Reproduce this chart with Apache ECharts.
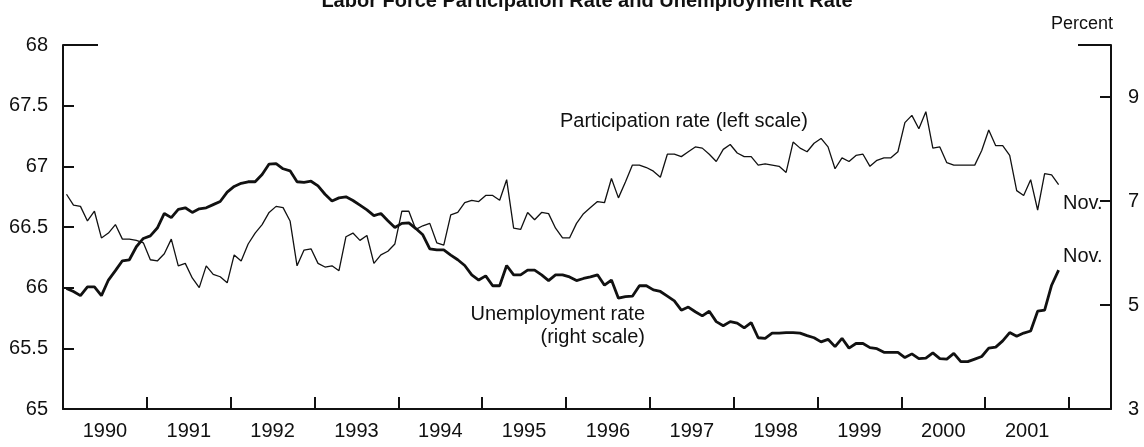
<!DOCTYPE html>
<html>
<head>
<meta charset="utf-8">
<script src="https://cdn.jsdelivr.net/npm/echarts@6/dist/echarts.min.js"></script>
<style>
  html, body { margin: 0; padding: 0; background: #fff; }
  #chart { width: 1144px; height: 447px; }
</style>
</head>
<body>
<div id="chart"></div>
<script>
// monthly, Jan 1990 .. Nov 2001
const startYear = 1990
// labor force participation rate, percent (left scale)
const participation = [
  66.77, 66.68, 66.67, 66.55, 66.63, 66.41, 66.45, 66.52, 66.40, 66.40, 66.39, 66.37,
  66.23, 66.22, 66.28, 66.40, 66.18, 66.20, 66.08, 66.00, 66.18, 66.11, 66.09, 66.04,
  66.27, 66.22, 66.36, 66.45, 66.52, 66.62, 66.67, 66.66, 66.55, 66.18, 66.31, 66.32,
  66.20, 66.17, 66.18, 66.14, 66.42, 66.45, 66.39, 66.43, 66.20, 66.27, 66.30, 66.36,
  66.63, 66.63, 66.48, 66.51, 66.53, 66.37, 66.35, 66.60, 66.62, 66.70, 66.72, 66.71,
  66.76, 66.76, 66.72, 66.89, 66.49, 66.48, 66.62, 66.56, 66.62, 66.61, 66.49, 66.41,
  66.41, 66.53, 66.61, 66.66, 66.71, 66.70, 66.90, 66.74, 66.87, 67.01, 67.01, 66.99,
  66.96, 66.91, 67.10, 67.10, 67.08, 67.12, 67.16, 67.15, 67.10, 67.04, 67.14, 67.18,
  67.11, 67.08, 67.08, 67.01, 67.02, 67.01, 67.00, 66.95, 67.20, 67.15, 67.12, 67.19,
  67.23, 67.16, 66.98, 67.07, 67.04, 67.09, 67.10, 67.00, 67.05, 67.07, 67.07, 67.12,
  67.36, 67.42, 67.31, 67.45, 67.15, 67.16, 67.03, 67.01, 67.01, 67.01, 67.01, 67.13,
  67.30, 67.17, 67.17, 67.09, 66.80, 66.76, 66.89, 66.64, 66.94, 66.93, 66.85
]
// unemployment rate, percent (right scale)
const unemployment = [
  5.32, 5.26, 5.18, 5.35, 5.35, 5.18, 5.48, 5.66, 5.85, 5.87, 6.12, 6.28,
  6.33, 6.48, 6.76, 6.68, 6.84, 6.87, 6.78, 6.85, 6.87, 6.93, 6.99, 7.17,
  7.28, 7.34, 7.37, 7.37, 7.51, 7.71, 7.72, 7.62, 7.58, 7.37, 7.36, 7.38,
  7.29, 7.13, 7.00, 7.06, 7.08, 7.01, 6.92, 6.83, 6.72, 6.76, 6.62, 6.49,
  6.57, 6.58, 6.47, 6.35, 6.08, 6.06, 6.06, 5.96, 5.87, 5.76, 5.58, 5.48,
  5.56, 5.37, 5.37, 5.76, 5.58, 5.58, 5.67, 5.67, 5.58, 5.47, 5.58, 5.58,
  5.54, 5.47, 5.51, 5.54, 5.58, 5.38, 5.48, 5.13, 5.16, 5.17, 5.37, 5.37,
  5.29, 5.26, 5.17, 5.08, 4.90, 4.96, 4.87, 4.79, 4.88, 4.68, 4.60, 4.68,
  4.65, 4.56, 4.66, 4.37, 4.36, 4.46, 4.46, 4.47, 4.47, 4.46, 4.41, 4.37,
  4.29, 4.34, 4.20, 4.36, 4.17, 4.26, 4.26, 4.18, 4.16, 4.09, 4.09, 4.09,
  3.99, 4.06, 3.97, 3.98, 4.08, 3.97, 3.96, 4.07, 3.91, 3.91, 3.96, 4.01,
  4.17, 4.19, 4.31, 4.47, 4.40, 4.46, 4.50, 4.88, 4.90, 5.38, 5.67
]
const yearLabels = [1990, 1991, 1992, 1993, 1994, 1995, 1996, 1997, 1998, 1999, 2000, 2001]
const yearTicks = [1991, 1992, 1993, 1994, 1995, 1996, 1997, 1998, 1999, 2000, 2001, 2002]
const rightTicks = [3, 5, 7, 9]

const FONT = '"Liberation Sans", Arial, Helvetica, sans-serif'
const INK = '#111'

// month index -> decimal year, plotted mid-month
const toPairs = arr => arr.map((v, i) => [startYear + (i + 0.5) / 12, v])

let myChart = echarts.init(document.getElementById('chart'), null, { renderer: 'canvas' })
let option = {
  animation: false,
  backgroundColor: '#fff',
  textStyle: { fontFamily: FONT },
  grid: { left: 63, right: 33, top: 45, bottom: 38 },
  xAxis: {
    type: 'value',
    min: 1990,
    max: 2002.5,
    splitLine: { show: false },
    axisLine: { lineStyle: { color: INK, width: 2 } },
    axisTick: { inside: true, length: 12, customValues: yearTicks, lineStyle: { color: INK, width: 2 } },
    axisLabel: {
      customValues: yearLabels.map(y => y + 0.5),
      formatter: v => String(Math.floor(v)),
      fontSize: 20, color: INK, margin: 12
    }
  },
  yAxis: [
    {
      type: 'value', position: 'left', min: 65, max: 68, interval: 0.5,
      splitLine: { show: false },
      axisLine: { show: true, lineStyle: { color: INK, width: 2 } },
      axisTick: { show: true, inside: true, length: 11, lineStyle: { color: INK, width: 2 } },
      axisLabel: { fontSize: 20, color: INK, margin: 15 }
    },
    {
      type: 'value', position: 'right', min: 3, max: 10,
      splitLine: { show: false },
      axisLine: { show: true, lineStyle: { color: INK, width: 2 } },
      axisTick: { show: true, inside: true, length: 11, customValues: rightTicks, lineStyle: { color: INK, width: 2 } },
      axisLabel: { customValues: rightTicks, fontSize: 20, color: INK, margin: 17 }
    },
    // short caps at the top of both scales
    {
      type: 'value', position: 'left', offset: 0, min: 65, max: 68,
      splitLine: { show: false }, axisLine: { show: false }, axisLabel: { show: false },
      axisTick: { show: true, inside: true, length: 35, customValues: [68], lineStyle: { color: INK, width: 2 } }
    },
    {
      type: 'value', position: 'right', offset: 0, min: 3, max: 10,
      splitLine: { show: false }, axisLine: { show: false }, axisLabel: { show: false },
      axisTick: { show: true, inside: true, length: 33, customValues: [10], lineStyle: { color: INK, width: 2 } }
    }
  ],
  series: [
    {
      name: 'Participation rate',
      type: 'line',
      yAxisIndex: 0,
      data: toPairs(participation),
      showSymbol: false,
      lineStyle: { color: INK, width: 1.3 }
    },
    {
      name: 'Unemployment rate',
      type: 'line',
      yAxisIndex: 1,
      data: toPairs(unemployment),
      showSymbol: false,
      lineStyle: { color: INK, width: 2.8 }
    }
  ],
  graphic: [
    { type: 'text', x: 587, y: 1, style: { text: 'Labor Force Participation Rate and Unemployment Rate', font: 'bold 20px ' + FONT, fill: INK, textAlign: 'center', textVerticalAlign: 'middle' } },
    { type: 'text', x: 1113, y: 24, style: { text: 'Percent', font: '18px ' + FONT, fill: INK, textAlign: 'right', textVerticalAlign: 'middle' } },
    { type: 'text', x: 560, y: 121, style: { text: 'Participation rate (left scale)', font: '20px ' + FONT, fill: INK, textAlign: 'left', textVerticalAlign: 'middle' } },
    { type: 'text', x: 645, y: 314, style: { text: 'Unemployment rate', font: '20px ' + FONT, fill: INK, textAlign: 'right', textVerticalAlign: 'middle' } },
    { type: 'text', x: 645, y: 337, style: { text: '(right scale)', font: '20px ' + FONT, fill: INK, textAlign: 'right', textVerticalAlign: 'middle' } },
    { type: 'text', x: 1063, y: 203, style: { text: 'Nov.', font: '20px ' + FONT, fill: INK, textAlign: 'left', textVerticalAlign: 'middle' } },
    { type: 'text', x: 1063, y: 256, style: { text: 'Nov.', font: '20px ' + FONT, fill: INK, textAlign: 'left', textVerticalAlign: 'middle' } }
  ]
}
myChart.setOption(option, true)
</script>
</body>
</html>
